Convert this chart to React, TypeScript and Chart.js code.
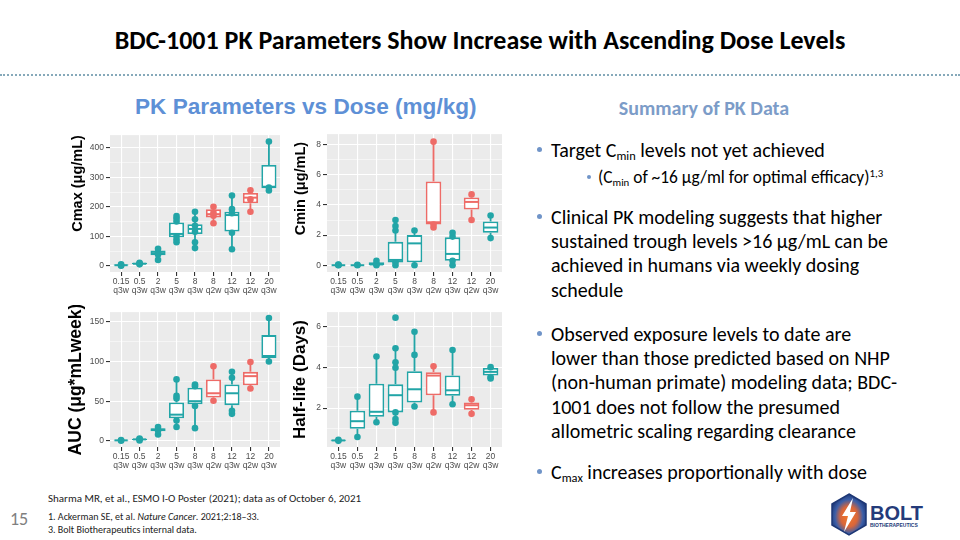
import React, { useEffect, useRef } from "react";
import { Chart, registerables } from "chart.js";
Chart.register(...registerables);

// ---------- categories ----------
const doseLabels = ["0.15", "0.5", "2", "5", "8", "8", "12", "12", "20"];
const scheduleLabels = ["q3w", "q3w", "q3w", "q3w", "q3w", "q2w", "q3w", "q2w", "q3w"];
const TEAL = "#22A5A7";
const RED = "#EE6B67";
const groupColors = [TEAL, TEAL, TEAL, TEAL, TEAL, RED, TEAL, RED, TEAL];

// ---------- Cmax (µg/mL) ----------
const cmaxLow = [0, 4, 20, 78, 60, 144, 56, 183, 255];
const cmaxQ1 = [1, 5, 36, 97, 108, 164, 116, 212, 263];
const cmaxMed = [2, 7, 43, 108, 125, 175, 172, 231, 268];
const cmaxQ3 = [4, 10, 52, 147, 141, 192, 183, 247, 342];
const cmaxHigh = [6, 11, 60, 172, 183, 203, 238, 259, 421];
const cmaxPoints = [
  [0, 2, 5],
  [5, 8, 10],
  [20, 38, 45, 58],
  [80, 89, 100, 150, 160, 169],
  [60, 80, 115, 136, 158, 183],
  [144, 170, 180, 200],
  [56, 112, 178, 192, 238],
  [183, 225, 256],
  [255, 265, 421],
];

// ---------- Cmin (µg/mL) ----------
const cminLow = [0, 0, 0, 0, 0, 2.5, 0, 3.0, 1.8];
const cminQ1 = [0, 0, 0.02, 0.18, 0.2, 2.7, 0.3, 3.7, 2.15];
const cminMed = [0, 0, 0.05, 0.35, 1.45, 2.85, 0.75, 4.2, 2.5];
const cminQ3 = [0.03, 0.03, 0.2, 1.55, 2.0, 5.55, 1.85, 4.5, 2.9];
const cminHigh = [0.05, 0.05, 0.3, 3.0, 2.3, 8.2, 2.15, 4.8, 3.3];
const cminPoints = [
  [0, 0.02, 0.05],
  [0, 0.03],
  [0, 0.1, 0.3],
  [0, 0.2, 2.3, 2.6, 3.0],
  [0, 2.3],
  [2.5, 2.7, 8.2],
  [0, 0.3, 1.9, 2.15],
  [3.0, 4.7],
  [1.8, 3.3],
];

// ---------- AUC (µg*mL week) ----------
const aucLow = [0, 0.5, 8, 17, 16, 50.5, 34, 66, 100];
const aucQ1 = [0.3, 1, 12, 28.5, 46, 54.7, 45, 70, 104.4];
const aucMed = [0.6, 1.8, 14, 33, 50, 60, 60, 81.6, 107];
const aucQ3 = [1, 2.5, 16, 48.5, 67, 77.5, 71, 87, 133.4];
const aucHigh = [1.2, 3, 17.5, 77.5, 71, 94, 87, 99.5, 155];
const aucPoints = [
  [0, 1],
  [0.5, 2, 3],
  [8, 13, 17.5],
  [17.4, 25.7, 53.5, 56.8, 77.5],
  [16, 44, 69, 71],
  [50.5, 94],
  [34, 38, 79.6, 87],
  [66, 99.5],
  [100, 155],
];

// ---------- Half-life (days) ----------
const hlLow = [0.38, 0.59, 1.31, 1.28, 2.08, 1.79, 2.19, 1.72, 3.45];
const hlQ1 = [0.4, 0.99, 1.58, 1.79, 2.27, 2.63, 2.6, 1.92, 3.59];
const hlMed = [0.42, 1.36, 1.82, 2.63, 2.92, 3.59, 2.87, 2.14, 3.77];
const hlQ3 = [0.45, 1.87, 3.19, 3.16, 3.8, 3.75, 3.59, 2.27, 3.96];
const hlHigh = [0.47, 2.56, 4.52, 4.92, 5.73, 4.04, 4.84, 2.43, 4.0];
const hlPoints = [
  [0.4, 0.45],
  [0.59, 2.56],
  [1.31, 4.52],
  [1.28, 1.47, 1.79, 3.97, 4.24, 4.92, 6.42],
  [2.08, 4.6, 5.73],
  [1.79, 4.04],
  [2.19, 4.84],
  [1.72, 2.43],
  [3.45, 3.52, 4.0],
];

type PanelProps = {
  left: number;
  top: number;
  width: number;
  height: number;
  low: number[];
  q1: number[];
  med: number[];
  q3: number[];
  high: number[];
  points: number[][];
  yMin: number;
  yMax: number;
  minorStep: number;
  majorStep: number;
  title: string;
  titleSize: number;
  titlePad: number;
  titleAlign: "start" | "center" | "end";
};

function BoxPanel(p: PanelProps) {
  const ref = useRef<HTMLCanvasElement>(null);
  useEffect(() => {
    const canvas = ref.current!;
    const scatterData = p.points.flatMap((arr, i) => arr.map((v) => ({ x: i, y: v })));
    const scatterColors = scatterData.map((d) => groupColors[d.x]);
    const boxData = p.q1.map((v, i) => ({ x: i, y: [v, p.q3[i]] }));
    const isMajor = (v: number) => Math.abs(v / p.majorStep - Math.round(v / p.majorStep)) < 1e-6;

    const plugin = {
      id: "ggbox",
      beforeDraw(chart: any) {
        const { ctx, chartArea: a } = chart;
        ctx.save();
        ctx.fillStyle = "#EBEBEB";
        ctx.fillRect(a.left, a.top, a.right - a.left, a.bottom - a.top);
        ctx.restore();
      },
      beforeDatasetsDraw(chart: any) {
        const { ctx } = chart;
        const xs = chart.scales.x;
        const ys = chart.scales.y;
        ctx.save();
        ctx.lineWidth = 1.8;
        p.low.forEach((lo, i) => {
          const px = xs.getPixelForValue(i);
          ctx.strokeStyle = groupColors[i];
          ctx.beginPath();
          ctx.moveTo(px, ys.getPixelForValue(lo));
          ctx.lineTo(px, ys.getPixelForValue(p.q1[i]));
          ctx.moveTo(px, ys.getPixelForValue(p.q3[i]));
          ctx.lineTo(px, ys.getPixelForValue(p.high[i]));
          ctx.stroke();
        });
        ctx.restore();
      },
      afterDatasetDraw(chart: any, args: any) {
        if (args.index !== 1) return;
        const meta = chart.getDatasetMeta(1);
        const { ctx } = chart;
        const ys = chart.scales.y;
        ctx.save();
        ctx.lineWidth = 2;
        meta.data.forEach((bar: any, i: number) => {
          const { x: bx, width } = bar.getProps(["x", "width"], true);
          const py = ys.getPixelForValue(p.med[i]);
          ctx.strokeStyle = groupColors[i];
          ctx.beginPath();
          ctx.moveTo(bx - width / 2 + 1, py);
          ctx.lineTo(bx + width / 2 - 1, py);
          ctx.stroke();
        });
        ctx.restore();
      },
    };

    const tickFont = { size: 8.5, family: "'Liberation Sans', Arial, sans-serif" };

    const chart = new Chart(canvas, {
      type: "bar",
      data: {
        datasets: [
          {
            type: "scatter",
            data: scatterData,
            pointRadius: 3.3,
            pointBackgroundColor: scatterColors,
            pointBorderWidth: 0,
            clip: false,
          } as any,
          {
            type: "bar",
            data: boxData,
            backgroundColor: "#FFFFFF",
            borderColor: groupColors,
            borderWidth: 1.8,
            borderSkipped: false,
            barPercentage: 0.82,
            categoryPercentage: 1,
          } as any,
        ],
      },
      options: {
        animation: false,
        responsive: false,
        devicePixelRatio: 1,
        layout: { padding: { top: 5, right: 4, left: 0, bottom: 0 } },
        plugins: { legend: { display: false }, tooltip: { enabled: false } },
        scales: {
          x: {
            type: "linear",
            min: -0.6,
            max: 8.6,
            offset: false,
            afterBuildTicks: (s: any) => {
              s.ticks = doseLabels.map((_, i) => ({ value: i }));
            },
            afterFit: (s: any) => {
              s.height = 30;
            },
            ticks: {
              autoSkip: false,
              maxRotation: 0,
              padding: 1,
              color: "#4D4D4D",
              font: { ...tickFont, lineHeight: 1.1 },
              callback: (v: any) => [doseLabels[v], scheduleLabels[v]],
            },
            grid: { color: "#FFFFFF", lineWidth: 1.1, tickColor: "#333333", tickLength: 4, offset: false },
            border: { display: false },
          },
          y: {
            type: "linear",
            min: p.yMin,
            max: p.yMax,
            afterBuildTicks: (s: any) => {
              const ticks: any[] = [];
              for (let k = Math.ceil(p.yMin / p.minorStep); k * p.minorStep <= p.yMax; k++) {
                ticks.push({ value: Math.round(k * p.minorStep * 1e6) / 1e6 });
              }
              s.ticks = ticks;
            },
            afterFit: (s: any) => {
              s.width = 50;
            },
            ticks: {
              padding: 2,
              color: "#4D4D4D",
              font: tickFont,
              callback: (v: any) => (isMajor(v) ? String(v) : ""),
            },
            grid: {
              color: "#FFFFFF",
              lineWidth: (c: any) => (isMajor(c.tick.value) ? 1.1 : 0.5),
              tickColor: (c: any) => (isMajor(c.tick.value) ? "#333333" : "rgba(0,0,0,0)"),
              tickLength: 4,
            },
            border: { display: false },
            title: {
              display: true,
              text: p.title,
              align: p.titleAlign,
              color: "#000000",
              font: { size: p.titleSize, weight: "bold", family: "'Liberation Sans', Arial, sans-serif" },
              padding: { top: p.titlePad, bottom: 0 },
            },
          },
        },
      } as any,
      plugins: [plugin],
    });
    return () => chart.destroy();
  }, []);
  return (
    <canvas
      ref={ref}
      width={p.width}
      height={p.height}
      style={{ position: "absolute", left: p.left, top: p.top, width: p.width, height: p.height }}
    />
  );
}

const bodyFont = "Carlito, Lato, 'Open Sans', sans-serif";
const bulletColor = "#7094C8";

function Sub({ children }: { children: React.ReactNode }) {
  return (
    <span style={{ fontSize: "0.62em", verticalAlign: "-0.28em", lineHeight: 0 }}>{children}</span>
  );
}

function Bullet({ x, y, size }: { x: number; y: number; size: number }) {
  return (
    <div
      style={{
        position: "absolute",
        left: x,
        top: y,
        width: size,
        height: size,
        borderRadius: "50%",
        background: bulletColor,
      }}
    />
  );
}

export default function App() {
  const lineH = 24.3;
  const bodySize = 20;
  return (
    <div
      style={{
        position: "fixed",
        left: 0,
        top: 0,
        width: 960,
        height: 540,
        background: "#FFFFFF",
        overflow: "hidden",
        fontFamily: bodyFont,
        color: "#000",
      }}
    >
      {/* Title */}
      <div
        style={{
          position: "absolute",
          left: 0,
          top: 25,
          width: 960,
          textAlign: "center",
          fontSize: 26,
          fontWeight: 700,
          lineHeight: "30px",
        }}
      >
        BDC-1001 PK Parameters Show Increase with Ascending Dose Levels
      </div>
      <div style={{ position: "absolute", left: 0, top: 74, width: 960, borderTop: "2px dotted #86A9BA" }} />

      {/* Left header */}
      <div
        style={{
          position: "absolute",
          left: 135,
          top: 93,
          fontFamily: "'Liberation Sans', Arial, sans-serif",
          fontSize: 22.6,
          fontWeight: 700,
          color: "#5E90D6",
          lineHeight: "28px",
          whiteSpace: "nowrap",
        }}
      >
        PK Parameters vs Dose (mg/kg)
      </div>

      <BoxPanel left={60} top={128} width={224} height={174} low={cmaxLow} q1={cmaxQ1} med={cmaxMed} q3={cmaxQ3} high={cmaxHigh} points={cmaxPoints} yMin={-21} yMax={443} minorStep={50} majorStep={100} title="Cmax (μg/mL)" titleSize={14.5} titlePad={9} titleAlign="end" />
      <BoxPanel left={277} top={127} width={229} height={175} low={cminLow} q1={cminQ1} med={cminMed} q3={cminQ3} high={cminHigh} points={cminPoints} yMin={-0.45} yMax={8.7} minorStep={1} majorStep={2} title={"\u2003\u2003Cmin (μg/mL)"} titleSize={14.5} titlePad={15} titleAlign="center" />
      <BoxPanel left={60} top={305} width={224} height={172} low={aucLow} q1={aucQ1} med={aucMed} q3={aucQ3} high={aucHigh} points={aucPoints} yMin={-7.8} yMax={162.4} minorStep={25} majorStep={50} title="AUC (μg*mLweek)" titleSize={17.5} titlePad={6} titleAlign="center" />
      <BoxPanel left={277} top={305} width={229} height={172} low={hlLow} q1={hlQ1} med={hlMed} q3={hlQ3} high={hlHigh} points={hlPoints} yMin={0.1} yMax={6.69} minorStep={1} majorStep={2} title="Half-life (Days)" titleSize={17} titlePad={13} titleAlign="center" />

      {/* Right summary */}
      <div
        style={{
          position: "absolute",
          left: 520,
          top: 95,
          width: 368,
          textAlign: "center",
          fontSize: 20,
          fontWeight: 700,
          color: "#7C9CC8",
          lineHeight: "26px",
        }}
      >
        Summary of PK Data
      </div>

      <Bullet x={537} y={147} size={5} />
      <div style={{ position: "absolute", left: 551, top: 150 - lineH / 2, fontSize: bodySize, lineHeight: `${lineH}px`, whiteSpace: "nowrap" }}>
        Target C<Sub>min</Sub> levels not yet achieved
      </div>
      <Bullet x={587} y={175} size={4} />
      <div style={{ position: "absolute", left: 598, top: 177 - lineH / 2, fontSize: 17.4, lineHeight: `${lineH}px`, whiteSpace: "nowrap" }}>
        (C<Sub>min</Sub> of ~16 µg/ml for optimal efficacy)
        <span style={{ fontSize: "0.62em", verticalAlign: "0.55em", lineHeight: 0 }}>1,3</span>
      </div>

      <Bullet x={537} y={214} size={5} />
      <div style={{ position: "absolute", left: 551, top: 217 - lineH / 2, fontSize: bodySize, lineHeight: `${lineH}px`, whiteSpace: "nowrap" }}>
        Clinical PK modeling suggests that higher
        <br />
        sustained trough levels &gt;16 µg/mL can be
        <br />
        achieved in humans via weekly dosing
        <br />
        schedule
      </div>

      <Bullet x={537} y={331} size={5} />
      <div style={{ position: "absolute", left: 551, top: 334 - lineH / 2, fontSize: bodySize, lineHeight: `${lineH}px`, whiteSpace: "nowrap" }}>
        Observed exposure levels to date are
        <br />
        lower than those predicted based on NHP
        <br />
        (non-human primate) modeling data; BDC-
        <br />
        1001 does not follow the presumed
        <br />
        allometric scaling regarding clearance
      </div>

      <Bullet x={537} y={469} size={5} />
      <div style={{ position: "absolute", left: 551, top: 472 - lineH / 2, fontSize: bodySize, lineHeight: `${lineH}px`, whiteSpace: "nowrap" }}>
        C<Sub>max</Sub> increases proportionally with dose
      </div>

      {/* Footer */}
      <div style={{ position: "absolute", left: 48, top: 492, fontSize: 11, lineHeight: "14px", whiteSpace: "nowrap", color: "#222" }}>
        Sharma MR, et al., ESMO I-O Poster (2021); data as of October 6, 2021
      </div>
      <div style={{ position: "absolute", left: 10, top: 508, fontSize: 18, lineHeight: "22px", color: "#7F7F7F" }}>15</div>
      <div style={{ position: "absolute", left: 48, top: 510, fontSize: 10, lineHeight: "13px", whiteSpace: "nowrap", color: "#222" }}>
        1. Ackerman SE, et al. <i>Nature Cancer</i>. 2021;2:18–33.
        <br />
        3. Bolt Biotherapeutics internal data.
      </div>

      {/* Logo */}
      <svg style={{ position: "absolute", left: 830, top: 492 }} width={100} height={46} viewBox="0 0 100 46">
        <defs>
          <radialGradient id="hexg" cx="50%" cy="55%" r="55%">
            <stop offset="0%" stopColor="#F47A2A" />
            <stop offset="45%" stopColor="#D9663A" />
            <stop offset="75%" stopColor="#3C5FA8" />
            <stop offset="100%" stopColor="#1F3A7A" />
          </radialGradient>
        </defs>
        <polygon points="19,2 36,12 36,33 19,43 2,33 2,12" fill="url(#hexg)" stroke="#1D3775" strokeWidth={1.5} />
        <polygon points="23,6 12,24 18,24 14,40 26,20 20,20" fill="#FFFFFF" />
        <text x={40} y={28} fontFamily="'Liberation Sans', Arial, sans-serif" fontWeight={700} fontSize={20} fill="#243B7A">
          BOLT
        </text>
        <text x={40} y={35} fontFamily="'Liberation Sans', Arial, sans-serif" fontWeight={700} fontSize={5} fill="#243B7A">
          BIOTHERAPEUTICS
        </text>
      </svg>
    </div>
  );
}
